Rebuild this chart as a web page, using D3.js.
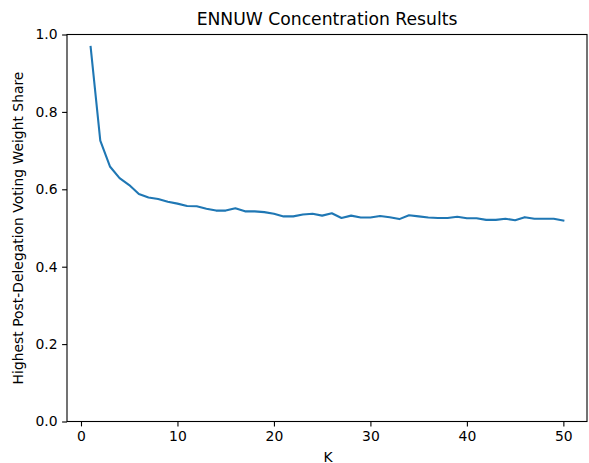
<!DOCTYPE html>
<html>
<head>
<meta charset="utf-8">
<script src="https://cdn.jsdelivr.net/npm/d3@7"></script>
<style>
body { margin: 0; background: #fff; }
svg { display: block; }
text { font-family: "DejaVu Sans", sans-serif; fill: #000; }
</style>
</head>
<body>
<svg id="chart" width="589" height="463"></svg>
<script>
const kValues = d3.range(1, 51);
const shareValues = [
  0.968, 0.726, 0.659, 0.629, 0.611, 0.588, 0.579, 0.575, 0.568, 0.563,
  0.557, 0.556, 0.550, 0.545, 0.545, 0.551, 0.543, 0.543, 0.541, 0.537,
  0.530, 0.530, 0.535, 0.537, 0.532, 0.538, 0.526, 0.532, 0.527, 0.527,
  0.531, 0.528, 0.523, 0.533, 0.530, 0.527, 0.526, 0.526, 0.529, 0.525,
  0.525, 0.521, 0.521, 0.524, 0.520, 0.528, 0.524, 0.524, 0.524, 0.519
];
const xTicks = [0, 10, 20, 30, 40, 50];
const yTicks = [0.0, 0.2, 0.4, 0.6, 0.8, 1.0];
const titleText = "ENNUW Concentration Results";
const xLabel = "K";
const yLabel = "Highest Post-Delegation Voting Weight Share";

const data = kValues.map((k, i) => ({ k, v: shareValues[i] }));

const margin = { left: 67, right: 2, top: 34.5, bottom: 41.5 };
const W = 589, H = 463;
const svg = d3.select("#chart");

const xPad = (50 - 1) * 0.05;
const x = d3.scaleLinear().domain([1 - xPad, 50 + xPad]).range([margin.left, W - margin.right]);
const y = d3.scaleLinear().domain([0, 1]).range([H - margin.bottom, margin.top]);

const line = d3.line().x(d => x(d.k)).y(d => y(d.v));
svg.append("path").datum(data)
  .attr("d", line)
  .attr("fill", "none")
  .attr("stroke", "#1f77b4")
  .attr("stroke-width", 2.08)
  .attr("stroke-linejoin", "round")
  .attr("stroke-linecap", "square");

const xAxis = d3.axisBottom(x).tickValues(xTicks).tickFormat(d3.format("d")).tickSizeOuter(0).tickSize(4.9).tickPadding(4.5);
const gx = svg.append("g").attr("transform", `translate(0,${H - margin.bottom})`).call(xAxis);
const yAxis = d3.axisLeft(y).tickValues(yTicks).tickFormat(d3.format(".1f")).tickSizeOuter(0).tickSize(4.9).tickPadding(4.5);
const gy = svg.append("g").attr("transform", `translate(${margin.left},0)`).call(yAxis);

[gx, gy].forEach(g => {
  g.select(".domain").remove();
  g.selectAll(".tick line").attr("stroke", "#000").attr("stroke-width", 1.1);
  g.selectAll(".tick text").attr("font-size", 13.9).attr("font-family", "DejaVu Sans").attr("fill", "#262626");
});

// spines
svg.append("rect")
  .attr("x", margin.left).attr("y", margin.top)
  .attr("width", W - margin.right - margin.left)
  .attr("height", H - margin.bottom - margin.top)
  .attr("fill", "none").attr("stroke", "#000").attr("stroke-width", 1.1);

svg.append("text")
  .attr("x", (margin.left + W - margin.right) / 2).attr("y", 25)
  .attr("text-anchor", "middle").attr("font-size", 17.2)
  .text(titleText);

svg.append("text")
  .attr("x", (margin.left + W - margin.right) / 2 + 1).attr("y", 461.5)
  .attr("text-anchor", "middle").attr("font-size", 13.9)
  .text(xLabel);

svg.append("text")
  .attr("transform", `translate(23,${(margin.top + H - margin.bottom) / 2}) rotate(-90)`)
  .attr("text-anchor", "middle").attr("font-size", 13.9)
  .text(yLabel);
</script>
</body>
</html>
